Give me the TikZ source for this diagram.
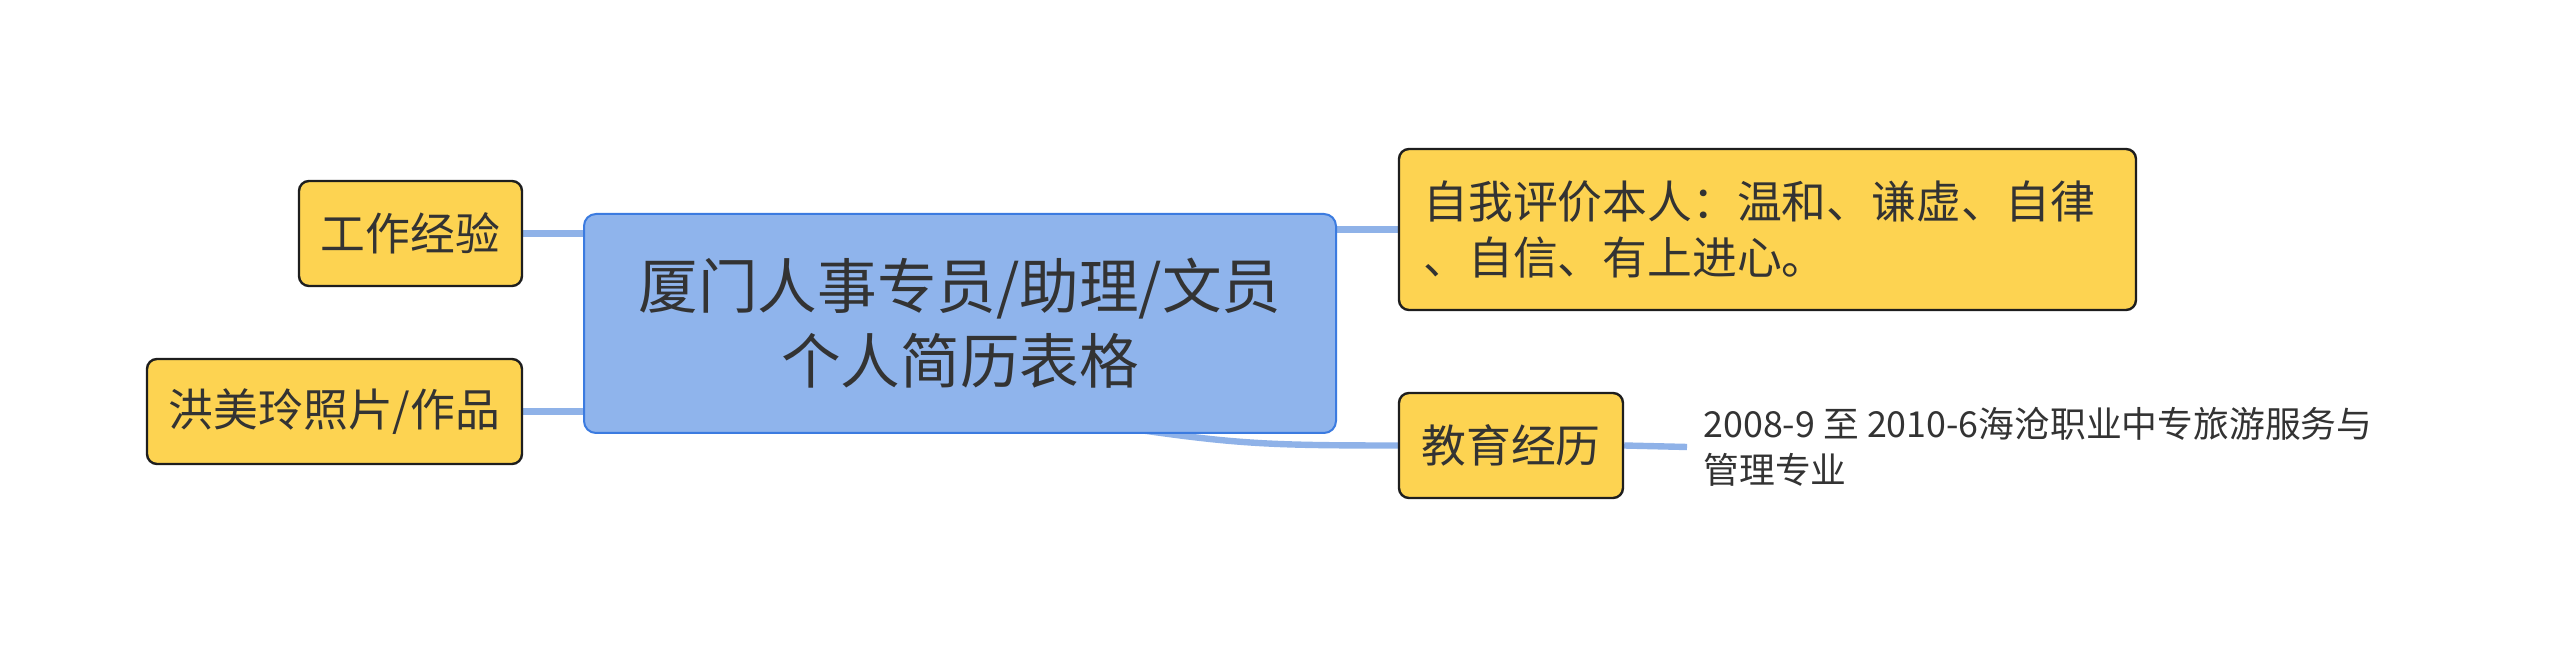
\documentclass[tikz,border=0pt]{standalone}
\usepackage{fontspec}
\setmainfont{Noto Sans CJK SC}
\usetikzlibrary{calc}
\definecolor{cfill}{HTML}{8FB4EC}
\definecolor{cborder}{HTML}{3B7BE0}
\definecolor{yfill}{HTML}{FDD351}
\definecolor{ybord}{HTML}{1E1E1E}
\definecolor{linkc}{HTML}{8FB2E8}
\definecolor{txt}{HTML}{333333}
\pgfdeclarelayer{bg}
\pgfsetlayers{bg,main}
\tikzset{
  central/.style={draw=cborder, line width=1pt, fill=cfill, rounded corners=6pt,
    minimum width=376pt, minimum height=109.5pt, align=center, text=txt,
    font=\fontsize{29.8}{37.5}\selectfont, inner sep=0pt},
  topic/.style={draw=ybord, line width=1.2pt, fill=yfill, rounded corners=5pt,
    minimum height=52.5pt, align=center, text=txt,
    font=\fontsize{22.4}{28}\selectfont, inner sep=0pt},
  leaf/.style={text=txt, align=left, font=\fontsize{17.9}{23}\selectfont, inner sep=0pt, anchor=west},
  link/.style={draw=linkc, line width=3.2pt}
}
\begin{document}
\begin{tikzpicture}[x=0.5pt,y=-0.5pt]
\useasboundingbox (0,0) rectangle (2560,656);
\node[central] (c) at (960,323.5) {厦门人事专员/助理/文员\\个人简历表格};
\node[topic, minimum width=368.5pt, minimum height=80.5pt, align=left, text width=344pt] (self) at (1767.5,229.5)
  {自我评价本人：温和、谦虚、自律\\、自信、有上进心。};
\node[topic, minimum width=112pt] (edu) at (1511,445.5) {教育经历};
\node[topic, minimum width=111.5pt] (work) at (410.5,233.5) {工作经验};
\node[topic, minimum width=187.5pt] (photo) at (334.5,411.5) {洪美玲照片/作品};
\node[leaf] (leaf) at (1703,447) {2008-9 至 2010-6海沧职业中专旅游服务与\\管理专业};
\coordinate (lend) at ($(leaf.west)+(-16,0)$);
\begin{pgfonlayer}{bg}
\draw[link] (work.east) -- (work.east -| c.west);
\draw[link] (photo.east) -- (photo.east -| c.west);
\draw[link] (self.west -| c.east) -- (self.west);
\draw[link] ($(c.south west)!0.72!(c.south east)+(0,-6)$) .. controls +(110,16) and +(-130,0) .. (edu.west);
\draw[link] (edu.east) -- (lend);
\end{pgfonlayer}
\end{tikzpicture}
\end{document}
